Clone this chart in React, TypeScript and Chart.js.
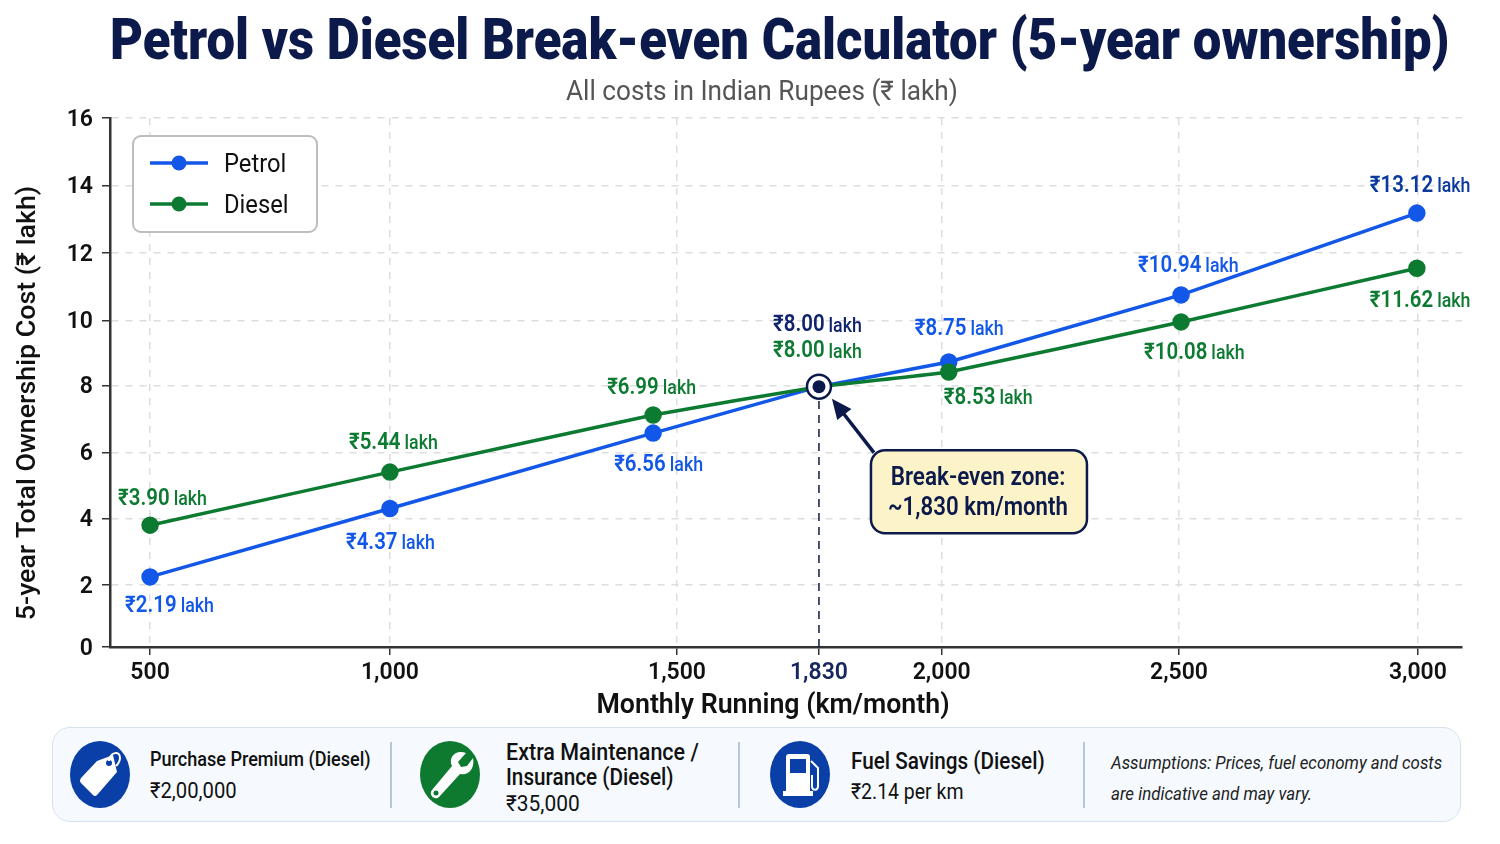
import React, { useEffect, useRef } from "react";
import { Chart, registerables } from "chart.js";

Chart.register(...registerables);

const FONT = "Roboto, 'Noto Sans', sans-serif";
const NAVY = "#0b1a4a";
const BLUE = "#1257e8";
const GREEN = "#0d7a32";

// positions as they sit on the drawn axes (the source's ticks are not evenly spaced)
const tickPositions = [500, 973, 1539, 1819, 2061, 2529, 3000];
const tickLabels = ["500", "1,000", "1,500", "1,830", "2,000", "2,500", "3,000"];
const costTickPositions = [0.15, 2.01, 4.0, 5.98, 7.99, 9.94, 11.96, 13.98, 16];
const costTickLabels = ["0", "2", "4", "6", "8", "10", "12", "14", "16"];
const runPositions = [500, 973, 1492, 1819, 2075, 2533, 2998];

const petrolCost = [2.25, 4.3, 6.56, 7.95, 8.69, 10.7, 13.15];
const dieselCost = [3.8, 5.39, 7.1, 7.95, 8.39, 9.89, 11.5];
const petrolLabels = ["2.19", "4.37", "6.56", "8.00", "8.75", "10.94", "13.12"];
const dieselLabels = ["3.90", "5.44", "6.99", "8.00", "8.53", "10.08", "11.62"];

const breakEvenKm = 1819;
const breakEvenCost = 7.95;

// label anchor offsets from each point, px
const petrolOffsets = [[-25, 27], [-44, 33], [-39, 30], [-46, -63], [-34, -35], [-43, -31], [-47, -29]];
const dieselOffsets = [[-32, -28], [-41, -31], [-46, -29], [-46, -37], [-5, 24], [-37, 29], [-47, 31]];
const petrolLabelColors = [BLUE, BLUE, BLUE, "#10246e", BLUE, BLUE, "#0a3a9f"];

function drawText(ctx, text, x, y, font, color, squeeze = 1, align = "left") {
  ctx.save();
  ctx.translate(x, y);
  ctx.scale(squeeze, 1);
  ctx.font = font;
  ctx.fillStyle = color;
  ctx.textAlign = align;
  ctx.textBaseline = "middle";
  ctx.fillText(text, 0, 0);
  ctx.restore();
}

function drawValueLabel(ctx, value, x, y, color) {
  const squeeze = 0.89;
  ctx.save();
  ctx.font = `600 23px ${FONT}`;
  const w = ctx.measureText("₹" + value).width * squeeze;
  ctx.restore();
  drawText(ctx, "₹" + value, x, y + 2, `600 23px ${FONT}`, color, squeeze);
  drawText(ctx, "lakh", x + w + 4, y + 3, `500 20px ${FONT}`, color, squeeze);
}

const annotations = {
  id: "annotations",
  afterDatasetsDraw(chart) {
    const { ctx, scales } = chart;
    const { x: xs, y: ys } = scales;

    // point value labels
    runPositions.forEach((km, i) => {
      const px = xs.getPixelForValue(km);
      drawValueLabel(ctx, petrolLabels[i], px + petrolOffsets[i][0], ys.getPixelForValue(petrolCost[i]) + petrolOffsets[i][1], petrolLabelColors[i]);
      drawValueLabel(ctx, dieselLabels[i], px + dieselOffsets[i][0], ys.getPixelForValue(dieselCost[i]) + dieselOffsets[i][1], GREEN);
    });

    // axis titles sit off-centre in the source, so they are placed by hand
    drawText(ctx, "Monthly Running (km/month)", 773, 706, `600 28px ${FONT}`, "#111", 0.955, "center");
    ctx.save();
    ctx.translate(28, 403);
    ctx.rotate(-Math.PI / 2);
    drawText(ctx, "5-year Total Ownership Cost (₹ lakh)", 0, 0, `500 26px ${FONT}`, "#111", 1.03, "center");
    ctx.restore();

    // legend
    ctx.save();
    ctx.beginPath();
    ctx.roundRect(133, 136, 184, 96, 8);
    ctx.fillStyle = "#fff";
    ctx.fill();
    ctx.strokeStyle = "#bdbdbd";
    ctx.lineWidth = 2;
    ctx.stroke();
    chart.data.datasets.slice(0, 2).forEach((ds, i) => {
      const y = 163 + i * 41;
      ctx.beginPath();
      ctx.moveTo(150, y);
      ctx.lineTo(208, y);
      ctx.strokeStyle = ds.borderColor;
      ctx.lineWidth = 3.5;
      ctx.stroke();
      ctx.beginPath();
      ctx.arc(179, y, 7.5, 0, Math.PI * 2);
      ctx.fillStyle = ds.borderColor;
      ctx.fill();
      drawText(ctx, ds.label, 224, y + 3, `400 25px ${FONT}`, "#111", 0.95);
    });
    ctx.restore();

    // break-even callout and arrow
    const bx = xs.getPixelForValue(breakEvenKm);
    const by = ys.getPixelForValue(breakEvenCost);
    const tipX = bx + 13;
    const tipY = by + 12;
    const tailX = bx + 55;
    const tailY = by + 66;
    const ang = Math.atan2(tipY - tailY, tipX - tailX);
    ctx.save();
    ctx.strokeStyle = NAVY;
    ctx.fillStyle = NAVY;
    ctx.lineWidth = 3.5;
    ctx.beginPath();
    ctx.moveTo(tailX, tailY);
    ctx.lineTo(tipX - 14 * Math.cos(ang), tipY - 14 * Math.sin(ang));
    ctx.stroke();
    ctx.beginPath();
    ctx.moveTo(tipX, tipY);
    ctx.lineTo(tipX - 22 * Math.cos(ang - 0.42), tipY - 22 * Math.sin(ang - 0.42));
    ctx.lineTo(tipX - 22 * Math.cos(ang + 0.42), tipY - 22 * Math.sin(ang + 0.42));
    ctx.closePath();
    ctx.fill();
    ctx.beginPath();
    ctx.roundRect(bx + 52, by + 63.5, 216, 83, 14);
    ctx.fillStyle = "#fdf3c8";
    ctx.fill();
    ctx.lineWidth = 2.5;
    ctx.stroke();
    ctx.restore();
    drawText(ctx, "Break-even zone:", bx + 159, by + 92, `600 25px ${FONT}`, NAVY, 0.9, "center");
    drawText(ctx, "~1,830 km/month", bx + 159, by + 122.5, `600 25px ${FONT}`, NAVY, 0.89, "center");
  },
};

function Txt({ x, y, size, weight = 400, color = "#111", squeeze = 1, italic = false, children }) {
  return (
    <div
      style={{
        position: "absolute",
        left: x,
        top: y,
        fontFamily: FONT,
        fontSize: size,
        fontWeight: weight,
        fontStyle: italic ? "italic" : "normal",
        color,
        lineHeight: 1,
        whiteSpace: "nowrap",
        transform: `translateY(-50%) scaleX(${squeeze})`,
        transformOrigin: "left center",
      }}
    >
      {children}
    </div>
  );
}

function Badge({ x, color, children }) {
  return (
    <svg style={{ position: "absolute", left: x, top: 741 }} width={60} height={67} viewBox="0 0 60 67">
      <ellipse cx={30} cy={33.5} rx={30} ry={33.5} fill={color} />
      {children}
    </svg>
  );
}

function Divider({ x }) {
  return <div style={{ position: "absolute", left: x, top: 742, width: 2, height: 66, background: "#b3c8e0" }} />;
}

export default function App() {
  const canvasRef = useRef(null);

  useEffect(() => {
    document.body.style.margin = "0";
    if (!canvasRef.current) return;
    const chart = new Chart(canvasRef.current, {
      type: "line",
      data: {
        datasets: [
          {
            label: "Petrol",
            data: runPositions.map((x, i) => ({ x, y: petrolCost[i] })),
            borderColor: BLUE,
            backgroundColor: BLUE,
            borderWidth: 3.5,
            pointRadius: 7,
            tension: 0,
            order: 4,
          },
          {
            label: "Diesel",
            data: runPositions.map((x, i) => ({ x, y: dieselCost[i] })),
            borderColor: GREEN,
            backgroundColor: GREEN,
            borderWidth: 3.5,
            pointRadius: 7,
            tension: 0.08,
            order: 3,
          },
          {
            label: "Break-even drop",
            data: [
              { x: breakEvenKm, y: 0.15 },
              { x: breakEvenKm, y: breakEvenCost },
            ],
            borderColor: NAVY,
            borderWidth: 1.5,
            borderDash: [8, 6],
            pointRadius: 0,
            order: 2,
          },
          {
            label: "Break-even ring",
            data: [{ x: breakEvenKm, y: breakEvenCost }],
            pointRadius: 12,
            pointBackgroundColor: "#fff",
            pointBorderColor: NAVY,
            pointBorderWidth: 2.5,
            showLine: false,
            order: 1,
          },
          {
            label: "Break-even dot",
            data: [{ x: breakEvenKm, y: breakEvenCost }],
            pointRadius: 6.5,
            pointBackgroundColor: NAVY,
            pointBorderWidth: 0,
            showLine: false,
            order: 0,
          },
        ],
      },
      options: {
        responsive: false,
        animation: false,
        layout: { padding: { top: 118, right: 38, left: 0, bottom: 0 } },
        plugins: { legend: { display: false }, tooltip: { enabled: false } },
        scales: {
          x: {
            type: "linear",
            min: 421,
            max: 3087,
            afterBuildTicks(scale) {
              scale.ticks = tickPositions.map((value) => ({ value }));
            },
            afterFit(scale) {
              scale.height = 197;
              scale.paddingLeft = 0;
              scale.paddingRight = 0;
            },
            ticks: {
              autoSkip: false,
              maxRotation: 0,
              padding: 4,
              font: { family: FONT, size: 23, weight: "600" },
              color: (c) => (c.index === 3 ? "#16265f" : "#111"),
              callback: (_v, i) => tickLabels[i],
            },
            grid: {
              color: (c) => (c.index === 3 ? "rgba(0,0,0,0)" : "#dedede"),
              tickColor: "#333",
              tickLength: 8,
              lineWidth: 1.5,
            },
            border: { color: "#333", width: 2.5, dash: [7, 7] },
          },
          y: {
            min: 0.15,
            max: 16,
            afterBuildTicks(scale) {
              scale.ticks = costTickPositions.map((value) => ({ value }));
            },
            afterFit(scale) {
              scale.width = 110;
            },
            ticks: {
              autoSkip: false,
              padding: 9,
              labelOffset: 2,
              font: { family: FONT, size: 23, weight: "600" },
              color: "#111",
              callback: (_v, i) => costTickLabels[i],
            },
            grid: {
              color: "#dedede",
              tickColor: "#333",
              tickLength: 8,
              lineWidth: 1.5,
            },
            border: { color: "#333", width: 2.5, dash: [7, 7] },
          },
        },
      },
      plugins: [annotations],
    });
    return () => {
      chart.destroy();
    };
  }, []);

  return (
    <div style={{ position: "relative", width: 1500, height: 844, background: "#fff", overflow: "hidden" }}>
      <canvas ref={canvasRef} width={1500} height={844} style={{ position: "absolute", left: 0, top: 0 }} />
      <Txt x={110} y={39} size={57} weight={900} color={NAVY} squeeze={0.893}>
        Petrol vs Diesel Break-even Calculator (5-year ownership)
      </Txt>
      <Txt x={566} y={91} size={27} color="#555" squeeze={0.97}>
        All costs in Indian Rupees (₹ lakh)
      </Txt>

      <div
        style={{
          position: "absolute",
          left: 52,
          top: 727,
          width: 1407,
          height: 93,
          background: "#f6faff",
          border: "1.5px solid #d5e2f2",
          borderRadius: 18,
        }}
      />
      <Badge x={70} color="#0a3fa8">
        <path d="M27 20 L43 14 L47 31 L27 54 Q25 56 23 54 L11 42 Q9 40 11 37 Z" fill="#fff" />
        <circle cx={39} cy={22} r={3} fill="#0a3fa8" />
        <path d="M39 20 C40 11 50 9 50 17 C50 21 48 23 46 25" fill="none" stroke="#fff" strokeWidth={2} />
      </Badge>
      <Txt x={150} y={759} size={21} weight={500} squeeze={0.86}>Purchase Premium (Diesel)</Txt>
      <Txt x={150} y={791} size={22} squeeze={0.92}>₹2,00,000</Txt>
      <Divider x={390} />

      <Badge x={420} color="#0e7a2f">
        <path
          d="M46 12 L38 21 L41 26 L47 25 L53 17 C55 27 49 35 40 33 L19 56 C15 60 8 54 12 49 L32 25 C28 17 35 8 46 12 Z"
          fill="#fff"
        />
        <circle cx={16} cy={52} r={2.5} fill="#0e7a2f" />
      </Badge>
      <Txt x={506} y={752} size={23} weight={500} squeeze={0.935}>Extra Maintenance /</Txt>
      <Txt x={506} y={777} size={23} weight={500} squeeze={0.9}>Insurance (Diesel)</Txt>
      <Txt x={506} y={804} size={22} squeeze={0.95}>₹35,000</Txt>
      <Divider x={738} />

      <Badge x={770} color="#0a3fa8">
        <path d="M16 16 Q16 13 19 13 L37 13 Q40 13 40 16 L40 50 L43 50 L43 55 L13 55 L13 50 L16 50 Z" fill="#fff" />
        <rect x={20} y={18} width={16} height={14} fill="#0a3fa8" />
        <path d="M41 20 L48 27 L48 45 C48 50 42 50 42 45 L42 34" fill="none" stroke="#fff" strokeWidth={2} />
      </Badge>
      <Txt x={851} y={761} size={23} weight={500} squeeze={0.9}>Fuel Savings (Diesel)</Txt>
      <Txt x={851} y={792} size={22} squeeze={0.885}>₹2.14 per km</Txt>
      <Divider x={1083} />

      <Txt x={1111} y={762} size={19} italic squeeze={0.887} color="#222">Assumptions: Prices, fuel economy and costs</Txt>
      <Txt x={1111} y={793} size={19} italic squeeze={0.89} color="#222">are indicative and may vary.</Txt>
    </div>
  );
}
